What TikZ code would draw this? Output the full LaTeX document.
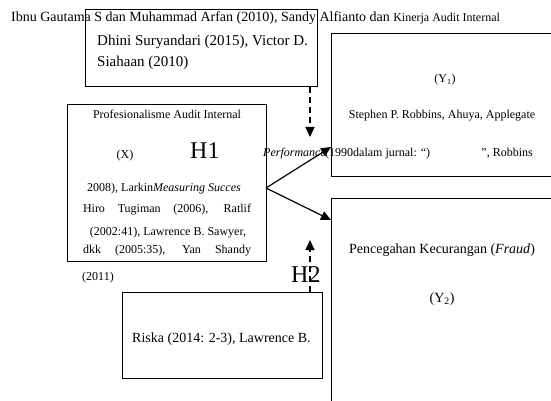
\documentclass[tikz,border=0pt]{standalone}
\usepackage{fontspec}
\setmainfont{Liberation Serif}
\usetikzlibrary{arrows.meta, positioning, calc}

\begin{document}
\begin{tikzpicture}[x=1pt, y=-1pt,
    box/.style={rectangle, draw, line width=1.2pt, inner sep=0pt, anchor=north west},
    txt/.style={inner sep=0pt, font=\fontsize{14}{16}\selectfont},
    small/.style={inner sep=0pt, font=\fontsize{12}{14}\selectfont},
    hyp/.style={inner sep=0pt, font=\fontsize{24}{26}\selectfont},
    arr/.style={line width=1.2pt, -{Triangle[length=10pt, width=9pt]}},
    darr/.style={arr, dash pattern=on 6pt off 4pt}]
    \clip (0,0) rectangle (551,401);
    % boxes
    \node[box, minimum width=232pt, minimum height=77pt] (refA) at (85,9) {};
    \node[box, minimum width=199pt, minimum height=157pt] (varX) at (67,104) {};
    \node[box, minimum width=240pt, minimum height=143pt] (varYa) at (331,33) {};
    \node[box, minimum width=240pt, minimum height=230pt] (varYb) at (331,198) {};
    \node[box, minimum width=200pt, minimum height=86pt] (refB) at (122,292) {};
    % texts above and in refA
    \node[txt, anchor=base west] (citeA) at (11,22) {Ibnu Gautama S dan Muhammad Arfan (2010), Sandy Alfianto dan};
    \node[small, anchor=base west] (nameX) at ($(citeA.base east)+(3,0)$) {Kinerja Audit Internal};
    \node[txt, font=\fontsize{15}{17}\selectfont, anchor=base west] (citeB) at (97,46) {Dhini Suryandari (2015), Victor D.};
    \node[txt, font=\fontsize{15}{17}\selectfont, anchor=base west] (citeC) at (97,67) {Siahaan (2010)};
    % texts in varX
    \node[small, anchor=base] (titleX) at (167,118) {Profesionalisme Audit Internal};
    \node[small, anchor=base] (labX) at (125,158) {(X)};
    \node[hyp, anchor=base west] (hOne) at (190,158) {H1};
    \node[small, anchor=base] (citeX1) at (164,191) {2008), Larkin\textit{Measuring Succes}};
    \node[small, anchor=base] (citeX2) at (167,212) {\makebox[168pt][s]{Hiro Tugiman (2006), Ratlif}};
    \node[small, anchor=base] (citeX3) at (168,235) {(2002:41), Lawrence B. Sawyer,};
    \node[small, anchor=base] (citeX4) at (167,253) {\makebox[168pt][s]{dkk (2005:35), Yan Shandy}};
    \node[small, anchor=base west] (citeX5) at (82,280) {(2011)};
    % texts in varYa
    \node[small, anchor=base] (labYa) at (445,83) {(Y\textsubscript{1})};
    \node[small, anchor=base] (citeY1) at (442,118) {Stephen P. Robbins, Ahuya, Applegate};
    \node[small, anchor=base west] (perf) at (263,157) {\textit{Performance}};
    \node[small, anchor=base west] (citeY2) at (325,157) {(1990dalam jurnal: “)};
    \node[small, anchor=base east] (citeY3) at (533,157) {”, Robbins};
    % texts in varYb and refB
    \node[txt, anchor=base] (titleYb) at (442,253) {Pencegahan Kecurangan (\textit{Fraud})};
    \node[txt, anchor=base] (labYb) at (442,302) {(Y\textsubscript{2})};
    \node[hyp, anchor=base west] (hTwo) at (291,282) {H2};
    \node[txt, anchor=base west] (citeR) at (132,342) {Riska (2014: 2-3), Lawrence B.};
    % arrows
    \coordinate (fork) at (266,188);
    \coordinate (inYa) at (331,147);
    \coordinate (inYb) at (331,220);
    \coordinate (tipA) at (310,137);
    \coordinate (tipB) at (310,240);
    \draw[arr] (fork) -- (inYa);
    \draw[arr] (fork) -- (inYb);
    \draw[darr] (tipA |- refA.south) -- (tipA);
    \draw[darr] (tipB |- refB.north) -- (tipB);
\end{tikzpicture}
\end{document}
